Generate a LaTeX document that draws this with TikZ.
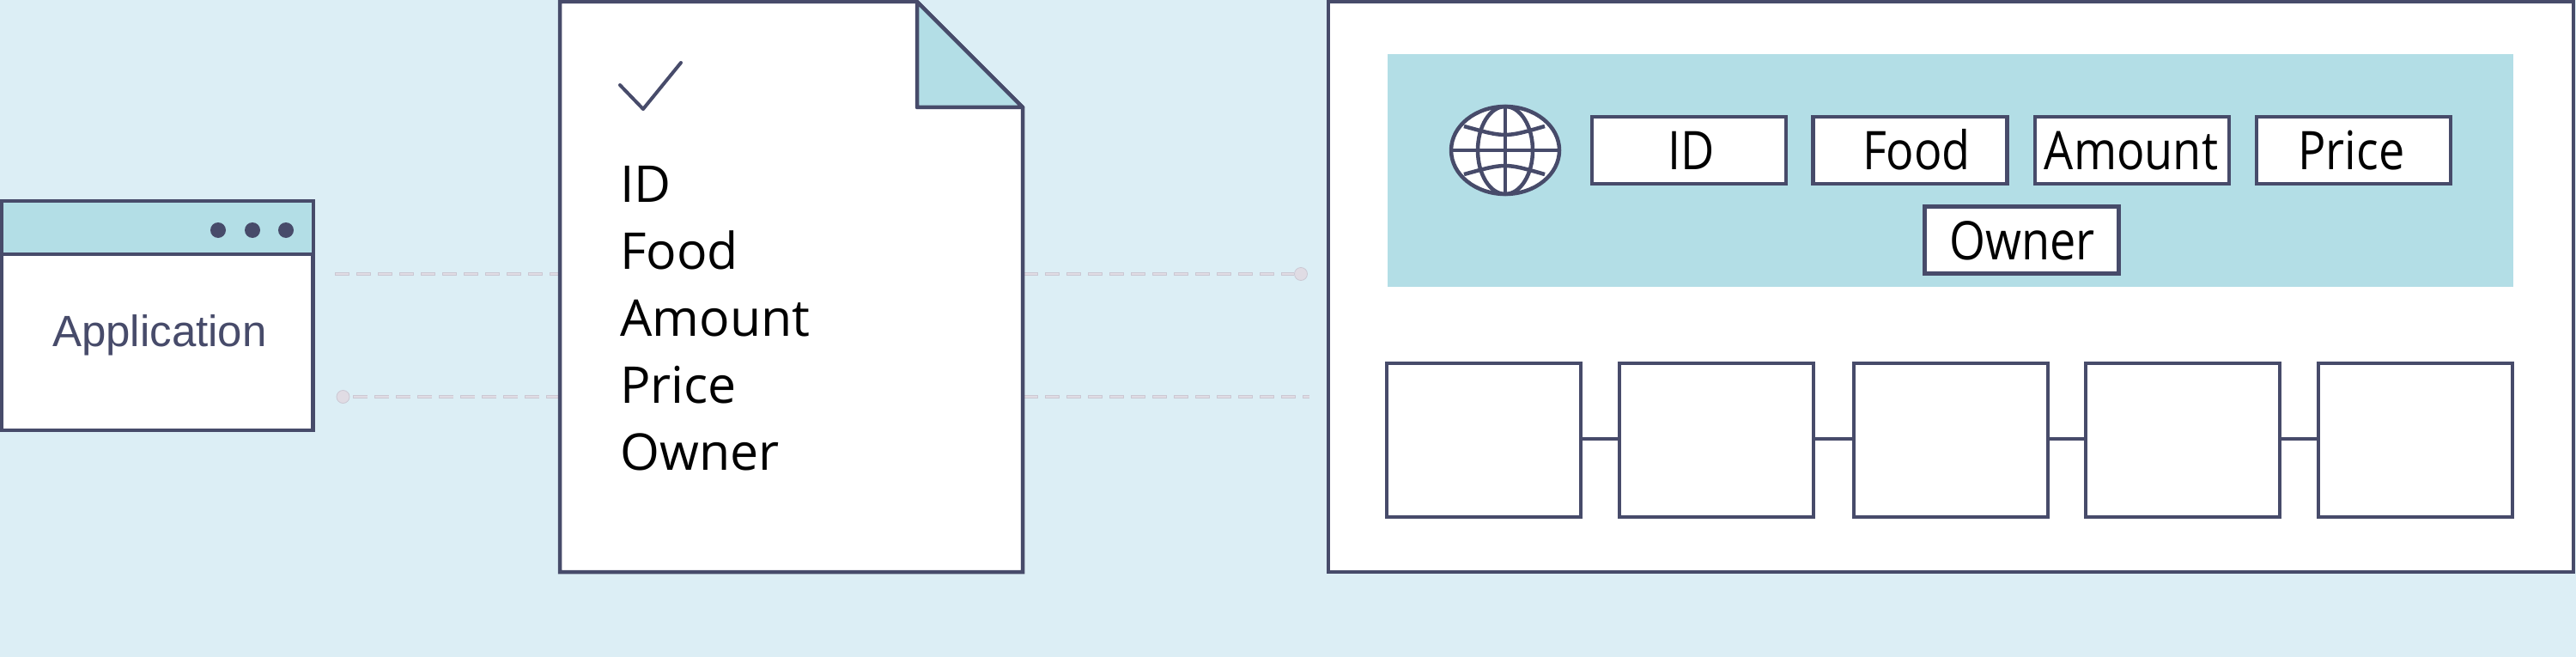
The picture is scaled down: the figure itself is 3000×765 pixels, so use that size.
\documentclass[tikz,border=0pt]{standalone}
\usepackage{fontspec}
\setmainfont{Open Sans}
\newfontfamily\appfont{Liberation Sans}
\newfontfamily\fieldfont[FakeStretch=0.87]{Open Sans}
\usetikzlibrary{shapes.geometric}
\definecolor{bgblue}{HTML}{DCEEF5}
\definecolor{midblue}{HTML}{B3DEE6}
\definecolor{ink}{HTML}{474B6A}
\definecolor{dashfill}{HTML}{E0DCE4}
\definecolor{dashedge}{HTML}{CBC8D3}
\tikzset{
  x=1pt,y=-1pt,
  outline/.style={draw=ink,line width=4.5pt,line join=miter},
  fieldbox/.style={outline,fill=white,rectangle,inner sep=0pt,minimum width=226pt,minimum height=78pt},
  cellbox/.style={outline,fill=white,rectangle,inner sep=0pt,minimum width=226pt,minimum height=179pt},
  fieldtext/.style={anchor=base,inner sep=0pt,text=black,font=\fieldfont\fontsize{62}{72}\selectfont},
  listtext/.style={anchor=base west,inner sep=0pt,text=black,font=\fontsize{59}{70}\selectfont},
  wire/.style={draw=dashfill,line width=2.2pt,dash pattern=on 15.4pt off 9.6pt,dash phase=24.2pt,
    preaction={draw=dashedge,line width=3.4pt,dash pattern=on 17pt off 8pt,dash phase=0pt}},
  enddot/.style={circle,fill=dashfill,draw=dashedge,line width=.8pt,minimum size=15pt,inner sep=0pt},
  hdot/.style={circle,fill=ink,minimum size=18pt,inner sep=0pt},
  globeline/.style={draw=ink,line width=4.5pt},
}
\begin{document}
\begin{tikzpicture}
\useasboundingbox (0,0) rectangle (3000,765);
\fill[bgblue] (0,0) rectangle (3000,765);

% connector anchors
\coordinate (wA) at (390,319);
\coordinate (dL1) at (651,319);
\coordinate (dR1) at (1192,319);
\coordinate (dL2) at (651,462);
\coordinate (dR2) at (1192,462);
\coordinate (pE2) at (1525,462);

\node[enddot] (startdot) at (399.5,462) {};
\node[enddot] (enddotr) at (1515,319) {};
\draw[wire] (wA) -- (dL1);
\draw[wire] (startdot.east) ++(4,0) -- (dL2);
\draw[wire] (dR1) -- (enddotr.west);
\draw[wire] (dR2) -- (pE2);

% application window
\node[outline,fill=white,rectangle,inner sep=0pt,minimum width=362pt,minimum height=267pt] (win) at (183,367.5) {};
\fill[midblue] (2,234) rectangle (365,296);
\draw[outline] (2,234) rectangle (365,501);
\draw[outline] (2,296) -- (365,296);
\node[hdot] (d1) at (254,268) {};
\node[hdot] (d2) at (294,268) {};
\node[hdot] (d3) at (333,268) {};
\node[anchor=base,inner sep=0pt,text=ink,font=\appfont\fontsize{51}{60}\selectfont] (apptext) at (186,403) {Application};

% document
\draw[outline,fill=white] (652,2) -- (1068,2) -- (1191,125) -- (1191,666) -- (652,666) -- cycle;
\draw[outline,fill=midblue,line join=round] (1068,2) -- (1191,125) -- (1068,125) -- cycle;
\draw[draw=ink,line width=4pt,line cap=round,line join=round] (722,99) -- (749,127) -- (793,73);
\node[listtext] (l1) at (722,235) {ID};
\node[listtext] (l2) at (722,313) {Food};
\node[listtext] (l3) at (722,391) {Amount};
\node[listtext] (l4) at (722,469) {Price};
\node[listtext] (l5) at (722,547) {Owner};

% right panel
\node[outline,fill=white,rectangle,inner sep=0pt,minimum width=1450pt,minimum height=664pt] (panel) at (2272,334) {};
\fill[midblue] (1616,63) rectangle (2927,334);

% globe
\node[ellipse,draw=ink,line width=4.5pt,fill=white,minimum width=126pt,minimum height=102pt,inner sep=0pt] (globe) at (1753,175) {};
\draw[globeline] (1753,175) ellipse [x radius=32,y radius=51];
\draw[globeline] (globe.north) -- (globe.south);
\draw[globeline] (globe.west) -- (globe.east);
\draw[globeline] (1705,147) .. controls (1753,160.3) .. (1799,147);
\draw[globeline] (1705,203) .. controls (1753,189.7) .. (1799,203);

% field boxes
\node[fieldbox] (fID) at (1967,175) {};
\node[fieldbox] (fFood) at (2224.5,175) {};
\node[fieldbox] (fAmount) at (2483,175) {};
\node[fieldbox] (fPrice) at (2741,175) {};
\node[fieldbox] (fOwner) at (2354.5,279.5) {};
\node[fieldtext] (tID) at (1970,197) {ID};
\node[fieldtext] (tFood) at (2232,197) {Food};
\node[fieldtext] (tAmount) at (2482,197) {Amount};
\node[fieldtext] (tPrice) at (2738.5,197) {Price};
\node[fieldtext] (tOwner) at (2355,302) {Owner};

% cell row
\node[cellbox] (c1) at (1728,512.5) {};
\node[cellbox] (c2) at (1999,512.5) {};
\node[cellbox] (c3) at (2272,512.5) {};
\node[cellbox] (c4) at (2542,512.5) {};
\node[cellbox] (c5) at (2813,512.5) {};
\foreach \a/\b in {c1/c2,c2/c3,c3/c4,c4/c5}
  \draw[outline] ([yshift=1.5pt]\a.east) -- ([yshift=1.5pt]\b.west);
\end{tikzpicture}
\end{document}
